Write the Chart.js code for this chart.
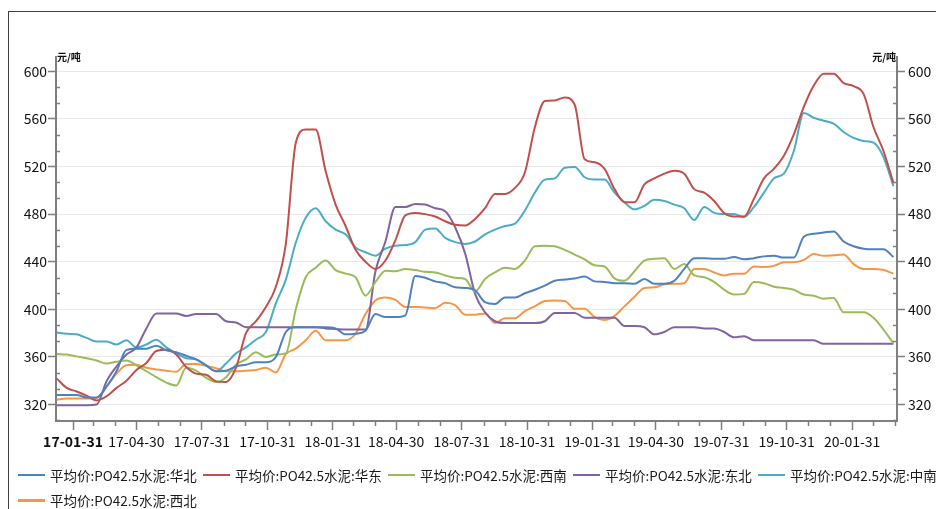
<!DOCTYPE html>
<html>
<head>
<meta charset="utf-8">
<script src="https://cdn.jsdelivr.net/npm/chart.js@4.4.1/dist/chart.umd.min.js"></script>
<style>
  html, body { margin: 0; padding: 0; background: #fff; }
  #wrap { position: relative; width: 936px; height: 509px; overflow: hidden; }
  #frame { position: absolute; left: 8px; top: 11px; width: 960px; height: 540px; border: 1px solid #404040; box-sizing: border-box; }
  #chart { position: absolute; left: 0; top: 0; }
  #legend { position: absolute; left: 18px; top: 462px; width: 925px; display: flex; flex-wrap: wrap; }
  #legend .item { width: 185px; height: 25.5px; display: flex; align-items: center; white-space: nowrap;
    font: 13.5px "Noto Sans CJK SC", "Noto Sans", sans-serif; color: #1a1a1a; }
  #legend .swatch { width: 27px; height: 2.5px; margin-right: 5px; flex: none; }
</style>
</head>
<body>
<div id="wrap">
  <div id="frame"></div>
  <canvas id="chart" width="936" height="509"></canvas>
  <div id="legend"></div>
</div>
<script>
// Fortnightly readings, 2017-01 .. 2020-03
const dates = [
  '2017-01-08', '2017-01-22', '2017-02-05', '2017-02-19', '2017-03-05', '2017-03-19', '2017-04-02', '2017-04-16', '2017-04-30', '2017-05-14',
  '2017-05-28', '2017-06-11', '2017-06-25', '2017-07-09', '2017-07-23', '2017-08-06', '2017-08-20', '2017-09-03', '2017-09-17', '2017-10-01',
  '2017-10-15', '2017-10-29', '2017-11-12', '2017-11-26', '2017-12-10', '2017-12-24', '2018-01-07', '2018-01-21', '2018-02-04', '2018-02-18',
  '2018-03-04', '2018-03-18', '2018-04-01', '2018-04-15', '2018-04-29', '2018-05-13', '2018-05-27', '2018-06-10', '2018-06-24', '2018-07-08',
  '2018-07-22', '2018-08-05', '2018-08-19', '2018-09-02', '2018-09-16', '2018-09-30', '2018-10-14', '2018-10-28', '2018-11-11', '2018-11-25',
  '2018-12-09', '2018-12-23', '2019-01-06', '2019-01-20', '2019-02-03', '2019-02-17', '2019-03-03', '2019-03-17', '2019-03-31', '2019-04-14',
  '2019-04-28', '2019-05-12', '2019-05-26', '2019-06-09', '2019-06-23', '2019-07-07', '2019-07-21', '2019-08-04', '2019-08-18', '2019-09-01',
  '2019-09-15', '2019-09-29', '2019-10-13', '2019-10-27', '2019-11-10', '2019-11-24', '2019-12-08', '2019-12-22', '2020-01-05', '2020-01-19',
  '2020-02-02', '2020-02-16', '2020-03-01', '2020-03-15', '2020-03-29'
];

const huabei = [
  328, 328, 328, 326, 326, 335, 348, 366, 367, 367,
  369.5, 365.5, 364, 361, 358, 353, 348, 348.5, 352, 353.5,
  355.5, 355.5, 360, 381, 385, 385, 385, 385, 384, 379,
  379.5, 382, 396, 393.5, 393.5, 395, 428, 426.5, 423.5, 422,
  418.5, 418, 416, 406, 404.5, 410, 410, 413.5, 416.5, 420,
  424, 425, 426, 427.5, 423.5, 423, 422, 422, 421.5, 425.5,
  421.5, 421.5, 424, 434, 443, 443, 442.5, 442.5, 444, 442,
  443, 444.5, 445, 443.5, 443.5, 461, 463.5, 464.5, 465.5, 457,
  453, 451, 450.5, 450.5, 444
];
const huadong = [
  342, 334, 331, 327.5, 323.5, 327, 334, 340, 349, 355,
  365, 366, 362, 351.5, 346, 345, 339.5, 339, 351, 380,
  390, 402, 419, 455, 540, 551, 551, 516, 488, 470,
  450, 440, 434, 441, 458, 479, 481, 480, 478, 474,
  471, 470.5, 476, 485, 497, 497, 502, 515, 553, 575,
  575.5, 578, 572, 526, 523.5, 518, 501, 490, 490, 505,
  510, 514, 516.5, 514, 501, 498, 491, 481, 478, 478,
  493, 510, 518, 529, 547, 570, 588, 598, 598, 590,
  587.5, 581, 553, 533, 506
];
const xinan = [
  362.5, 362, 360.5, 359, 357, 354.5, 356, 357, 353, 348,
  343, 338.5, 336, 351, 348.5, 342.5, 339, 343, 353.5, 358,
  364, 360, 362, 363, 400, 427, 435, 441, 433, 430,
  427, 411.5, 423, 432.5, 432, 434, 433, 431.5, 431, 428.5,
  426.5, 425.5, 415, 425.5, 431, 435, 434, 441, 453, 453.5,
  453, 450, 446, 442, 437, 436, 426, 424, 432, 441,
  442.5, 443, 434, 438, 428.5, 427, 423, 416.5, 412.5, 413,
  423, 422, 419, 418, 416.5, 412.5, 411.5, 409, 409.5, 397.5,
  397.5, 397.5, 393, 383, 371.5
];
const dongbei = [
  319.5, 319.5, 319.5, 319.5, 320, 339.5, 352, 362, 368, 384,
  396.5, 396.5, 396.5, 394.5, 396, 396, 396, 390, 389, 385,
  385, 385, 385, 385, 385, 385, 385, 384, 383.5, 383,
  383, 383, 432, 457, 486, 486, 488.5, 488, 485, 482.5,
  469, 447, 413, 397.5, 390, 388.5, 388.5, 388.5, 388.5, 390,
  397, 397, 397, 393, 393, 393, 393, 386, 386, 385,
  379, 381, 385, 385, 385, 384, 384, 381, 376.5, 377.5,
  374, 374, 374, 374, 374, 374, 374, 371, 371, 371,
  371, 371, 371, 371, 371
];
const zhongnan = [
  380.5, 379.5, 379, 376, 373, 373, 370.5, 374, 368, 370.5,
  374.5, 368, 363, 359, 358, 353, 348, 354.5, 363, 368,
  374.5, 381, 405, 425, 456, 477, 485, 474, 467, 463,
  452, 448, 445, 451, 453.5, 454, 456.5, 467, 468, 460,
  456.5, 455, 457, 463, 467, 470, 472, 483, 498, 509,
  510, 519, 519.5, 511, 509, 509, 498, 490, 484, 487,
  492, 491, 488, 485, 475, 486, 481, 480, 480, 477.5,
  486, 498, 510, 514, 533, 565, 561, 558.5, 556, 549,
  544, 541.5, 540, 528, 503.5
];
const xibei = [
  324, 325, 325, 325, 325.5, 335, 346, 353, 353.5, 351,
  349.5, 348.5, 347.5, 354, 354, 352.5, 350.5, 348, 348, 348.5,
  349, 351, 347, 362.5, 367, 374, 382, 374, 374, 374,
  379.5, 396, 407.5, 410, 408, 402, 402, 401.5, 401, 405.5,
  403.5, 395.5, 395.5, 396.5, 388.5, 392.5, 392.5, 398.5, 402.5, 407,
  407.5, 407, 400.5, 400.5, 393.5, 391, 394.5, 402.5, 410.5, 418,
  418.5, 421, 421.5, 422, 434, 434, 431, 428.5, 430, 430,
  436, 435.5, 436.5, 439.5, 439.5, 441.5, 446.5, 445, 445.5, 446,
  438, 434, 434, 433, 430
];

const seriesNames = [
  '平均价:PO42.5水泥:华北', '平均价:PO42.5水泥:华东', '平均价:PO42.5水泥:西南',
  '平均价:PO42.5水泥:东北', '平均价:PO42.5水泥:中南', '平均价:PO42.5水泥:西北'
];
const seriesColors = ['#4f81bd', '#c0504d', '#9bbb59', '#8064a2', '#4bacc6', '#f79646'];

const xTickLabels = ['17-01-31', '17-04-30', '17-07-31', '17-10-31', '18-01-31', '18-04-30', '18-07-31',
  '18-10-31', '19-01-31', '19-04-30', '19-07-31', '19-10-31', '20-01-31'];
const yTicks = [320, 360, 400, 440, 480, 520, 560, 600];
const unitLabel = '元/吨';

const FONT = '"Noto Sans CJK SC", "Noto Sans", sans-serif';
const axisColor = '#7f7f7f';

const toDay = s => {
  const [y, m, d] = s.split('-').map(Number);
  return Date.UTC(y, m - 1, d) / 864e5;
};
const xMin = toDay('2017-01-07');
const xMax = toDay('2020-04-03');
const yMin = 306.2;
const yMax = 612;

const allValues = [huabei, huadong, xinan, dongbei, zhongnan, xibei];

// small tick marks: thirds between the y labels, month ends on the x axis
const minorTicks = {
  id: 'minorTicks',
  afterDraw(chart) {
    const { ctx, chartArea: a, scales } = chart;
    const ys = scales.y;
    ctx.save();
    ctx.strokeStyle = axisColor;
    ctx.lineWidth = 1.5;
    ctx.beginPath();
    const step = (yTicks[1] - yTicks[0]) / 3;
    for (let k = -3; k <= 3 * (yTicks.length + 1); k++) {
      if (k % 3 === 0) continue;
      const v = yTicks[0] + k * step;
      if (v < ys.min || v > ys.max) continue;
      const py = Math.round(ys.getPixelForValue(v)) + 0.5;
      ctx.moveTo(a.left, py); ctx.lineTo(a.left + 4, py);
      ctx.moveTo(a.right, py); ctx.lineTo(a.right - 4, py);
    }
    for (let yr = 2016; yr <= 2020; yr++) {
      for (let m = 0; m < 12; m++) {
        if (m % 3 === 0) continue;
        const d = Date.UTC(yr, m + 1, 0) / 864e5;
        if (d < xMin || d > xMax) continue;
        const px = Math.round(scales.x.getPixelForValue(d)) + 0.5;
        ctx.moveTo(px, a.bottom); ctx.lineTo(px, a.bottom + 5);
      }
    }
    ctx.stroke();
    ctx.fillStyle = '#111';
    ctx.font = 'bold 10px ' + FONT;
    ctx.textBaseline = 'alphabetic';
    ctx.textAlign = 'left';
    ctx.fillText(unitLabel, a.left + 1, a.top + 4);
    ctx.textAlign = 'right';
    ctx.fillText(unitLabel, a.right - 1, a.top + 4);
    ctx.restore();
  }
};

const yAxis = (pos) => ({
  type: 'linear',
  position: pos,
  min: yMin,
  max: yMax,
  afterBuildTicks: s => { s.ticks = yTicks.map(v => ({ value: v })); },
  afterFit: s => { s.width = pos === 'left' ? 48 : 39; },
  ticks: { color: '#111', font: { family: FONT, size: 14 }, padding: pos === 'left' ? 1 : 3 },
  grid: {
    drawOnChartArea: pos === 'left',
    color: '#e9e9e9',
    lineWidth: 1,
    tickLength: 8,
    tickColor: axisColor,
    tickWidth: 1.5
  },
  border: { color: axisColor, width: 2 }
});

new Chart(document.getElementById('chart'), {
  type: 'line',
  data: {
    datasets: allValues.map((vals, k) => ({
      label: seriesNames[k],
      data: vals.map((v, i) => ({ x: toDay(dates[i]), y: v })),
      borderColor: seriesColors[k],
      backgroundColor: seriesColors[k],
      borderWidth: 2,
      pointRadius: 0,
      cubicInterpolationMode: 'monotone',
      fill: false
    }))
  },
  options: {
    responsive: false,
    animation: false,
    layout: { padding: { left: 8, top: 57, right: 0, bottom: 52 } },
    plugins: {
      legend: { display: false },
      tooltip: { enabled: false }
    },
    scales: {
      x: {
        type: 'linear',
        min: xMin,
        max: xMax,
        afterBuildTicks: s => { s.ticks = xTickLabels.map(t => ({ value: toDay('20' + t) })); },
        afterFit: s => { s.height = 36; },
        ticks: {
          autoSkip: false,
          maxRotation: 0,
          color: '#111',
          padding: 3,
          font: c => ({ family: FONT, size: 14, weight: c.index === 0 ? 'bold' : 'normal' }),
          callback: (v, i) => xTickLabels[i]
        },
        grid: { drawOnChartArea: false, tickLength: 9, tickColor: axisColor, tickWidth: 1.5 },
        border: { color: axisColor, width: 2 }
      },
      y: yAxis('left'),
      y2: yAxis('right')
    }
  },
  plugins: [minorTicks]
});

// legend below the plot, fixed-width items as in the original
const legend = document.getElementById('legend');
seriesNames.forEach((name, k) => {
  const item = document.createElement('div');
  item.className = 'item';
  const sw = document.createElement('span');
  sw.className = 'swatch';
  sw.style.background = seriesColors[k];
  const tx = document.createElement('span');
  tx.textContent = name;
  item.appendChild(sw);
  item.appendChild(tx);
  legend.appendChild(item);
});
</script>
</body>
</html>
